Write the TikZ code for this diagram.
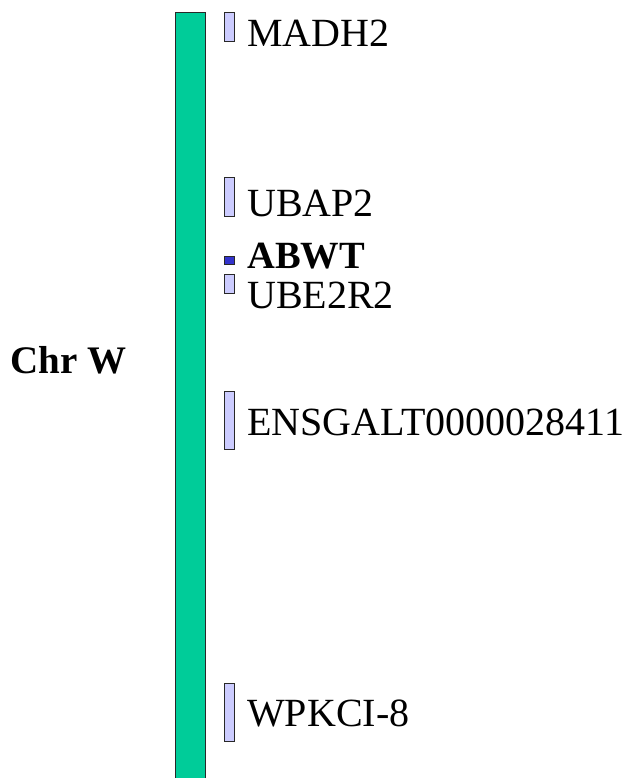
\documentclass[tikz,border=0pt]{standalone}
\usepackage{fontspec}
\setmainfont{Liberation Serif}
\usepackage{tikz}
\usetikzlibrary{positioning}
\definecolor{chrgreen}{RGB}{0,204,153}
\definecolor{genelav}{RGB}{204,204,255}
\definecolor{genedark}{RGB}{51,51,204}
\definecolor{edgegray}{RGB}{40,40,40}

\begin{document}
\begin{tikzpicture}[x=1pt, y=-1pt, chr bar/.style={draw=edgegray,fill=chrgreen,minimum width=30pt,inner sep=0pt,line width=0.9pt},gene mark/.style={draw=edgegray,fill=genelav,minimum width=10pt,inner sep=0pt,line width=0.9pt},gene label/.style={anchor=base west,inner sep=0pt,font=\fontsize{40}{40}\selectfont}]
\useasboundingbox (0,0) rectangle (623,778);
\clip (0,0) rectangle (623,778);
% chromosome
\node[chr bar, minimum height=778pt] (chrW) at (190,401) {};
\node[gene label, font=\fontsize{39}{39}\selectfont\bfseries] (chrWlabel) at (10,373) {Chr W};
% gene marks
\begin{scope}[every node/.style={gene mark}]
\node[minimum height=29pt] (mMADH2) at (229,26.5) {};
\node[minimum height=39pt] (mUBAP2) at (229,196.5) {};
\node[minimum height=8pt, fill=genedark] (mABWT) at (229,260) {};
\node[minimum height=19pt] (mUBE2R2) at (229,283.5) {};
\node[minimum height=58pt] (mENSGALT) at (229,420) {};
\node[minimum height=58pt] (mWPKCI) at (229,712) {};
\end{scope}
% gene names
\begin{scope}[every node/.style={gene label}]
\node (lMADH2) at (247,47) {MADH2};
\node (lUBAP2) at (247,216) {UBAP2};
\node[font=\fontsize{38.5}{38.5}\selectfont\bfseries] (lABWT) at (247,268) {ABWT};
\node (lUBE2R2) at (247,308) {UBE2R2};
\node (lENSGALT) at (247,435) {ENSGALT0000028411};
\node (lWPKCI) at (247,726) {WPKCI-8};
\end{scope}
\end{tikzpicture}
\end{document}
